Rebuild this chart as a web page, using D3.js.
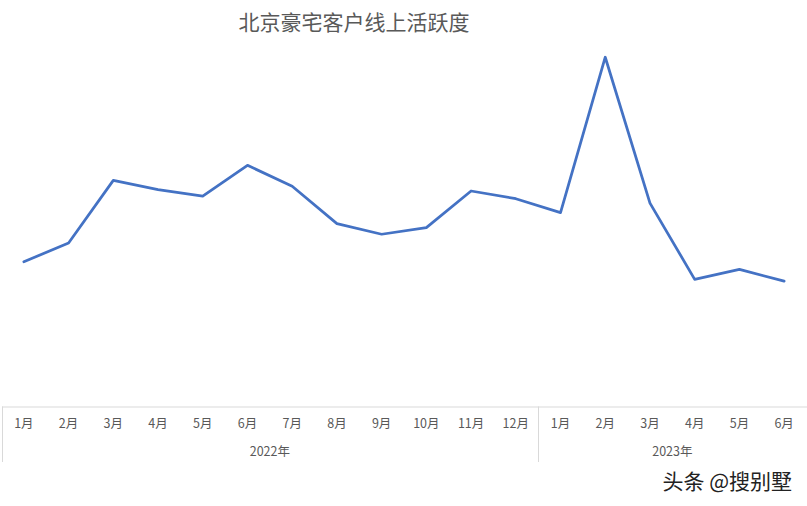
<!DOCTYPE html>
<html>
<head>
<meta charset="utf-8">
<script src="https://cdn.jsdelivr.net/npm/d3@7"></script>
<style>
  html, body { margin: 0; padding: 0; background: #fff; }
  svg { display: block; font-family: "Noto Sans CJK SC", "Noto Sans", sans-serif; }
</style>
</head>
<body>
<svg id="chart" width="807" height="506"></svg>
<script>
const title = "北京豪宅客户线上活跃度";
const years = ["2022年", "2023年"];
const months2022 = ["1月","2月","3月","4月","5月","6月","7月","8月","9月","10月","11月","12月"];
const months2023 = ["1月","2月","3月","4月","5月","6月"];
const values2022 = [39.5, 44.6, 61.7, 59.2, 57.4, 65.8, 60.1, 49.9, 47.0, 48.8, 58.8, 56.7];
const values2023 = [52.9, 95.3, 55.5, 34.7, 37.4, 34.2];
const watermark = "头条 @搜别墅";

const data = [];
months2022.forEach((m, i) => data.push({ key: "2022-" + m, year: years[0], month: m, value: values2022[i] }));
months2023.forEach((m, i) => data.push({ key: "2023-" + m, year: years[1], month: m, value: values2023[i] }));

const svg = d3.select("#chart");
const plotLeft = 1.5, plotRight = 806.5, axisY = 406.5, plotTop = 40;

const x = d3.scaleBand().domain(data.map(d => d.key)).range([plotLeft, plotRight]).paddingInner(0).paddingOuter(0);
const y = d3.scaleLinear().domain([0, 100]).range([axisY, plotTop]);

// title
svg.append("text")
  .attr("x", 354).attr("y", 30)
  .attr("text-anchor", "middle")
  .attr("font-size", 21)
  .attr("fill", "#595959")
  .text(title);

// axis
const axis = d3.axisBottom(x).tickSize(0).tickPadding(10)
  .tickFormat(k => data.find(d => d.key === k).month);
const gAxis = svg.append("g").attr("transform", `translate(0,${axisY})`).call(axis);
gAxis.select(".domain").attr("stroke", "#d9d9d9").attr("stroke-width", 1);
gAxis.selectAll(".tick text").attr("fill", "#595959").attr("font-size", 12.5)
  .attr("font-family", "'Noto Sans CJK SC', sans-serif").attr("dy", "0.9em");

// group separators
const boundaries = [plotLeft, x("2023-1月"), plotRight];
svg.selectAll("line.sep").data(boundaries).enter().append("line")
  .attr("class", "sep")
  .attr("x1", d => Math.round(d) + 0.5).attr("x2", d => Math.round(d) + 0.5)
  .attr("y1", axisY).attr("y2", 462)
  .attr("stroke", "#d9d9d9").attr("stroke-width", 1);

// year labels
years.forEach(yr => {
  const items = data.filter(d => d.year === yr);
  const x0 = x(items[0].key), x1 = x(items[items.length - 1].key) + x.bandwidth();
  svg.append("text")
    .attr("x", (x0 + x1) / 2).attr("y", 456)
    .attr("text-anchor", "middle")
    .attr("font-size", 12.5).attr("fill", "#595959")
    .text(yr);
});

// line
const line = d3.line()
  .x(d => x(d.key) + x.bandwidth() / 2)
  .y(d => y(d.value));
svg.append("path")
  .datum(data)
  .attr("d", line)
  .attr("fill", "none")
  .attr("stroke", "#4472C4")
  .attr("stroke-width", 2.75)
  .attr("stroke-linejoin", "round")
  .attr("stroke-linecap", "round");

// watermark
svg.append("text")
  .attr("x", 792).attr("y", 489)
  .attr("text-anchor", "end")
  .attr("font-size", 21)
  .attr("fill", "#222")
  .attr("stroke", "#fff").attr("stroke-width", 3).attr("paint-order", "stroke")
  .text(watermark);
</script>
</body>
</html>
